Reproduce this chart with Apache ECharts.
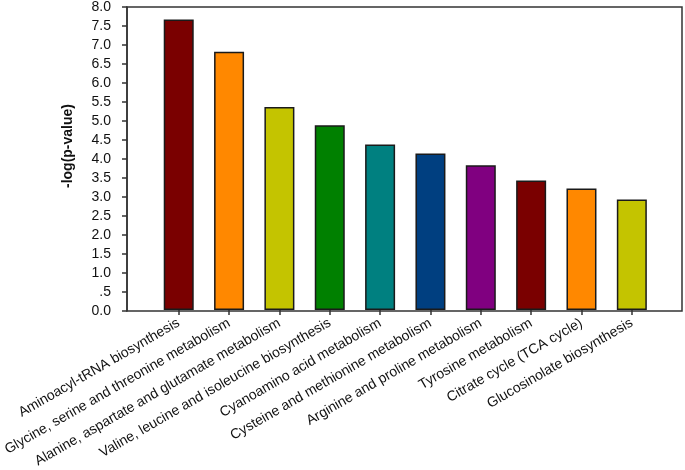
<!DOCTYPE html>
<html>
<head>
<meta charset="utf-8">
<script src="https://cdn.jsdelivr.net/npm/echarts@6/dist/echarts.min.js"></script>
<style>
  html, body { margin: 0; padding: 0; background: #fff; }
  #chart { width: 685px; height: 470px; }
</style>
</head>
<body>
<div id="chart"></div>
<script>
// 通路名称
const pathways = [
  'Aminoacyl-tRNA biosynthesis',
  'Glycine, serine and threonine metabolism',
  'Alanine, aspartate and glutamate metabolism',
  'Valine, leucine and isoleucine biosynthesis',
  'Cyanoamino acid metabolism',
  'Cysteine and methionine metabolism',
  'Arginine and proline metabolism',
  'Tyrosine metabolism',
  'Citrate cycle (TCA cycle)',
  'Glucosinolate biosynthesis'
]
// -log(p-value)
const logP = [7.67, 6.82, 5.36, 4.88, 4.37, 4.13, 3.82, 3.42, 3.21, 2.92]
const barColors = ['#7a0000', '#ff8800', '#c4c400', '#008000', '#008080', '#003f80', '#800080', '#7a0000', '#ff8800', '#c4c400']
// y轴刻度
const yMin = 0
const yMax = 8
const yStep = 0.5

const chart = echarts.init(document.getElementById('chart'))

const option = {
  animation: false,
  textStyle: { fontFamily: 'Liberation Sans, Arial, sans-serif' },
  grid: [
    // 外框和y轴
    { left: 127, right: 3, top: 7, bottom: 159, show: true, borderColor: '#333', borderWidth: 1.5 },
    // 柱状图
    { left: 151, right: 28, top: 7, bottom: 159 }
  ],
  xAxis: [
    { gridIndex: 0, type: 'value', show: false },
    {
      gridIndex: 1,
      type: 'category',
      data: pathways,
      axisLine: { show: false },
      axisTick: { show: true, alignWithLabel: true, length: 5, lineStyle: { color: '#333', width: 1.5 } },
      axisLabel: { rotate: 30, fontSize: 14, color: '#111', margin: 12, interval: 0 }
    }
  ],
  yAxis: [
    {
      gridIndex: 0,
      type: 'value',
      min: yMin,
      max: yMax,
      interval: yStep,
      name: '-log(p-value)',
      nameLocation: 'middle',
      nameGap: 52,
      nameTextStyle: { fontSize: 14, fontWeight: 'bold', color: '#111', padding: [0, 0, 0, 26] },
      axisLine: { show: true, lineStyle: { color: '#333', width: 1.5 } },
      axisTick: { show: true, inside: false, length: 5, lineStyle: { color: '#333', width: 1.5 } },
      splitLine: { show: false },
      axisLabel: {
        fontSize: 14,
        color: '#111',
        margin: 16,
        formatter: (v) => (v === 0.5 ? '.5' : v.toFixed(1))
      }
    },
    { gridIndex: 1, type: 'value', min: yMin, max: yMax, show: false }
  ],
  series: [
    {
      type: 'bar',
      xAxisIndex: 1,
      yAxisIndex: 1,
      barWidth: 30,
      data: logP.map((v, i) => ({
        value: v,
        itemStyle: { color: barColors[i] }
      })),
      itemStyle: { borderColor: '#1a1a1a', borderWidth: 1.5 }
    }
  ]
}
chart.setOption(option)
</script>
</body>
</html>
